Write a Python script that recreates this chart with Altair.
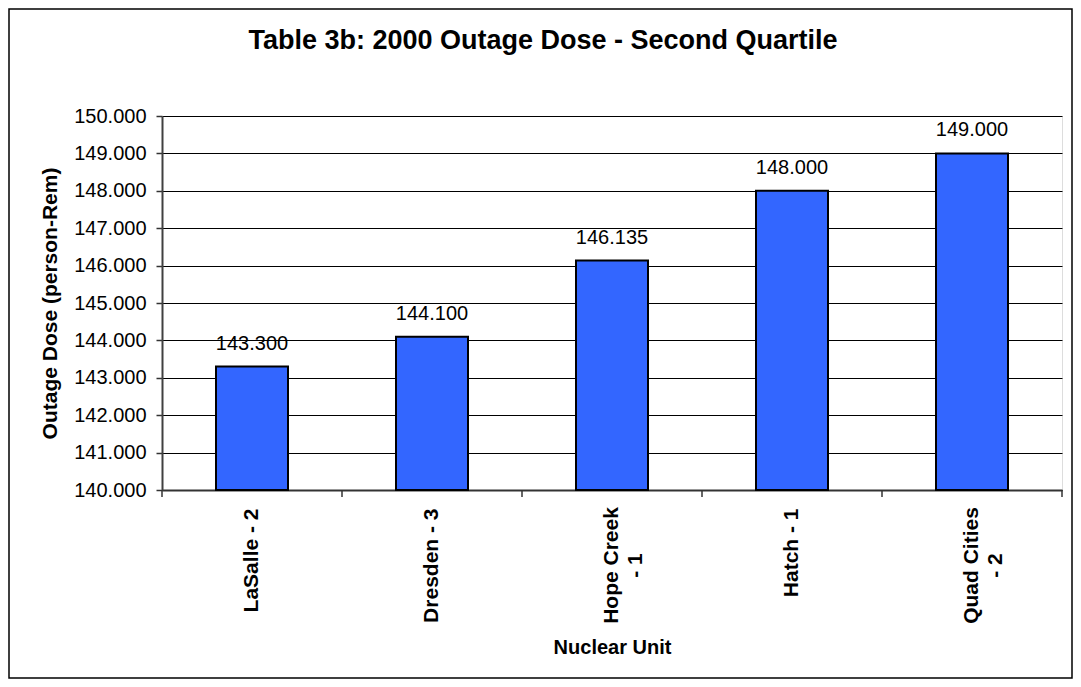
import altair as alt
import pandas as pd

units = ["LaSalle - 2", "Dresden - 3", "Hope Creek\n- 1", "Hatch - 1", "Quad Cities\n- 2"]
doses = [143.300, 144.100, 146.135, 148.000, 149.000]
y_ticks = [140, 141, 142, 143, 144, 145, 146, 147, 148, 149, 150]
chart_title = "Table 3b: 2000 Outage Dose - Second Quartile"

df = pd.DataFrame({"unit": units, "dose": doses})

FONT = "Liberation Sans"

multi_test = "indexof(datum.value, '\\n') >= 0"
label_expr = "split(datum.label, '\\n')"

x_scale = alt.Scale(paddingInner=0, paddingOuter=0)
x_axis = alt.Axis(
    title="Nuclear Unit",
    titleFontSize=20,
    titleFontWeight="bold",
    titleFont=FONT,
    titleColor="black",
    titlePadding=14,
    labelAngle=-90,
    labelAlign={"condition": {"test": multi_test, "value": "center"}, "value": "right"},
    labelBaseline="middle",
    labelFontSize=21,
    labelFontWeight="bold",
    labelFont=FONT,
    labelColor="black",
    labelPadding={"condition": {"test": multi_test, "value": 75}, "value": 18},
    labelExpr=label_expr,
    labelLineHeight=24,
    labelOverlap=False,
    ticks=False,
    domain=True,
    domainColor="#333333",
    domainWidth=2,
    grid=False,
)

y_scale = alt.Scale(domain=[140, 150], zero=False, nice=False)
y_axis = alt.Axis(
    title="Outage Dose (person-Rem)",
    titleFontSize=21,
    titleFontWeight="bold",
    titleFont=FONT,
    titleColor="black",
    titlePadding=13,
    values=y_ticks,
    labelOverlap=False,
    format=".3f",
    labelFontSize=20,
    labelFont=FONT,
    labelColor="black",
    labelPadding=10,
    tickSize=6,
    tickColor="#333333",
    tickWidth=1.5,
    domainColor="#404040",
    domainWidth=2,
    grid=True,
    gridColor="black",
    gridWidth=1,
)

first_only = "datum.unit == 'LaSalle - 2'"

border = alt.Chart(df).mark_rect(
    fillOpacity=0, stroke="black", strokeWidth=1.5
).encode(
    x=alt.value(-153), x2=alt.value(910), y=alt.value(-107), y2=alt.value(562)
).transform_filter(first_only)

title_mark = alt.Chart(df).mark_text(
    fontSize=27, font=FONT, fontWeight="bold", color="black", align="center", baseline="middle"
).encode(
    x=alt.value(381), y=alt.value(-75), text=alt.value(chart_title)
).transform_filter(first_only)

bars = alt.Chart(df).mark_bar(
    color="#3366FF", stroke="black", strokeWidth=2, width=alt.RelativeBandSize(0.4)
).encode(
    x=alt.X("unit:N", sort=None, scale=x_scale, axis=x_axis),
    y=alt.Y("dose:Q", scale=y_scale, axis=y_axis),
    y2=alt.datum(140),
)

labels = alt.Chart(df).mark_text(
    fontSize=20, font=FONT, color="black", baseline="alphabetic", dy=-17
).encode(
    x=alt.X("unit:N", sort=None, scale=x_scale, axis=x_axis),
    y=alt.Y("dose:Q", scale=y_scale, axis=y_axis),
    text=alt.Text("dose:Q", format=".3f"),
)

xticks = alt.Chart(df).mark_rule(color="#333333", strokeWidth=1.5).encode(
    x=alt.X("unit:N", sort=None, bandPosition=0, scale=x_scale, axis=x_axis),
    y=alt.value(374),
    y2=alt.value(381),
)
end_tick = alt.Chart(df).mark_rule(color="#333333", strokeWidth=1.5).encode(
    x=alt.value(900), y=alt.value(374), y2=alt.value(381)
).transform_filter(first_only)

chart = alt.layer(bars, labels, xticks, end_tick, border, title_mark).properties(
    width=900,
    height=374,
    autosize=alt.AutoSizeParams(type="none"),
    padding={"left": 154, "top": 108, "right": 11, "bottom": 189},
).configure_view(
    stroke="#808080", strokeWidth=2
).configure(background="white")

chart.save("out.html", embed_options={"renderer": "svg", "actions": False})
